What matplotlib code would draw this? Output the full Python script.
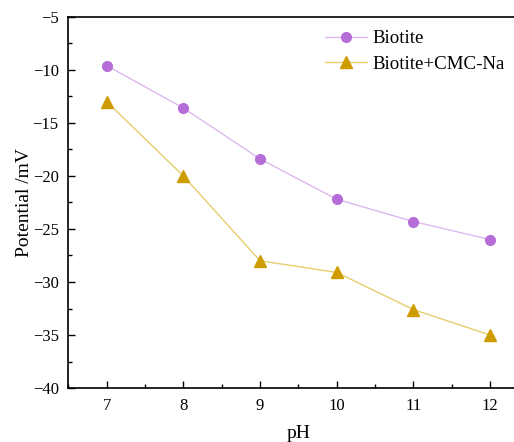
import matplotlib
matplotlib.use("Agg")
import matplotlib.pyplot as plt
from matplotlib.ticker import MultipleLocator

# zeta potential vs pH
ph = [7, 8, 9, 10, 11, 12]
biotite = [-9.6, -13.6, -18.4, -22.2, -24.3, -26.0]
biotite_cmc = [-13.0, -20.0, -28.0, -29.1, -32.6, -35.0]

plt.rcParams["font.family"] = ["Liberation Serif", "DejaVu Serif"]

fig = plt.figure(figsize=(5.14, 4.42), dpi=100)
ax = fig.add_axes([0.133, 0.122, 0.895, 0.84])

ax.plot(ph, biotite, color="#ddb8ee", linewidth=1.0, marker="o",
        markersize=7, markerfacecolor="#b56ed8", markeredgecolor="#b56ed8",
        label="Biotite")
ax.plot(ph, biotite_cmc, color="#e6cd6e", linewidth=1.0, marker="^",
        markersize=8, markerfacecolor="#cf9c00", markeredgecolor="#cf9c00",
        label="Biotite+CMC-Na")

ax.set_xlim(6.5, 12.5)
ax.set_ylim(-40, -5)
ax.xaxis.set_major_locator(MultipleLocator(1))
ax.xaxis.set_minor_locator(MultipleLocator(0.5))
ax.yaxis.set_major_locator(MultipleLocator(5))
ax.yaxis.set_minor_locator(MultipleLocator(2.5))
ax.tick_params(which="both", direction="in", width=1.0, labelsize=12,
               top=False, right=False, pad=7)
ax.tick_params(which="major", length=5)
ax.tick_params(which="minor", length=3)
for s in ax.spines.values():
    s.set_linewidth(1.2)

ax.set_xlabel("pH", fontsize=14, labelpad=8)
ax.set_ylabel("Potential /mV", fontsize=14, labelpad=0)

ax.legend(loc="upper left", bbox_to_anchor=(325 / 514, 1 - 30 / 442),
          bbox_transform=fig.transFigure, frameon=False, borderaxespad=0,
          fontsize=13.6, handlelength=2.2, handletextpad=0.3,
          labelspacing=0.45, borderpad=0)

fig.savefig("out.png", dpi=100)
